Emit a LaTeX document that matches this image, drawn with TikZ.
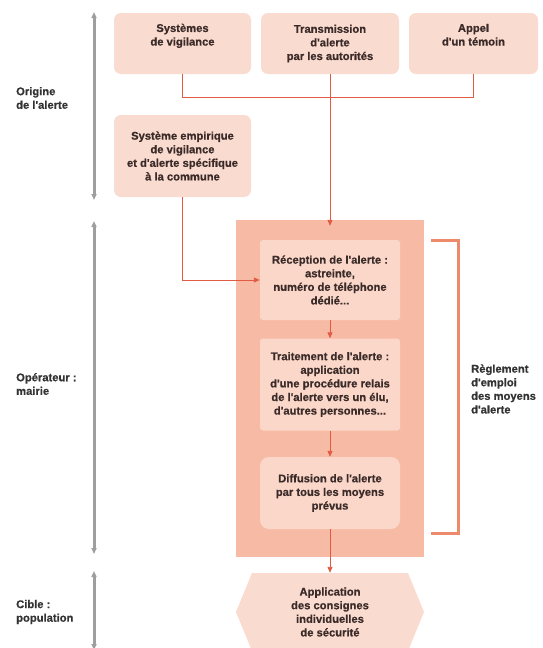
\documentclass[tikz,border=0pt]{standalone}
\usepackage{fontspec}
\newfontfamily\cond{Liberation Sans}[UprightFont={* Bold}, FakeBold=0.6]
\usetikzlibrary{arrows.meta}
\definecolor{boxfill}{HTML}{FADBCF}
\definecolor{bigfill}{HTML}{F7BBA5}
\definecolor{innerfill}{HTML}{FAD7C9}
\definecolor{txtc}{HTML}{3A2A28}
\definecolor{conncol}{HTML}{E05A44}
\definecolor{brcol}{HTML}{EE8A6C}
\definecolor{graycol}{HTML}{9E9E9E}
\definecolor{labc}{HTML}{333333}
\newcommand\txtfont{\cond\fontsize{11.2}{13.6}\selectfont}
\tikzset{
  box/.style={fill=boxfill, rounded corners=7pt, align=center, font=\txtfont, text=txtc, inner sep=0pt},
  inner/.style={fill=innerfill, rounded corners=3pt, align=center, font=\txtfont, text=txtc, inner sep=0pt, minimum width=140pt},
  conn/.style={draw=conncol, line width=0.9pt},
  arr/.style={conn, -{Triangle[length=6pt,width=5pt]}},
  bracketline/.style={draw=brcol, line width=3pt},
  grayarrow/.style={draw=graycol, line width=3pt, {Triangle[length=6pt,width=5pt]}-{Triangle[length=6pt,width=5pt]}},
  lab/.style={anchor=west, align=left, font=\txtfont, text=labc, inner sep=0pt}
}
\begin{document}
\begin{tikzpicture}[x=1pt,y=-1pt]
\useasboundingbox (0,0) rectangle (542,648);
\clip (0,0) rectangle (542,648);
% top boxes
\node[box, minimum width=137pt, minimum height=61pt] (b1) at (182.5,43.5) {Systèmes\\de vigilance\\\strut};
\node[box, minimum width=138pt, minimum height=61pt] (b2) at (330,43.5) {Transmission\\d'alerte\\par les autorités};
\node[box, minimum width=129pt, minimum height=61pt] (b3) at (473.5,43.5) {Appel\\d'un témoin\\\strut};
\node[box, minimum width=137pt, minimum height=82pt] (b4) at (182.5,156) {Système empirique\\de vigilance\\et d'alerte spécifique\\à la commune};
% big box
\node[fill=bigfill, minimum width=188pt, minimum height=337pt, inner sep=0pt] (big) at (330,388.5) {};
\node[inner, minimum height=80pt] (rec) at (330,280) {Réception de l'alerte :\\astreinte,\\numéro de téléphone\\dédié...};
\node[inner, minimum height=92pt] (tra) at (330,384.5) {Traitement de l'alerte :\\application\\d'une procédure relais\\de l'alerte vers un élu,\\d'autres personnes...};
\node[inner, rounded corners=9pt, minimum height=72pt] (dif) at (330,493) {Diffusion de l'alerte\\par tous les moyens\\prévus};
% hexagon
\fill[boxfill] (236,612) -- (252,573) -- (408,573) -- (424,612) -- (408,651) -- (252,651) -- cycle;
\node[align=center, font=\txtfont, text=txtc, inner sep=0pt, minimum height=78pt, minimum width=150pt] (hx) at (330,612) {Application\\des consignes\\individuelles\\de sécurité};
% connectors
\draw[conn] (b1.south) -- ++(0,23) -| (b3.south);
\draw[arr] (b2.south) -- ([yshift=-6pt]big.north);
\draw[arr] (b4.south) |- (rec.west);
\draw[arr] (rec.south) -- (tra.north);
\draw[arr] (tra.south) -- (dif.north);
\draw[arr] (dif.south) -- (hx.north);
% bracket
\coordinate (brt) at (431,240);
\coordinate (brb) at (431,533);
\draw[bracketline] (brt) -- ++(27,0) |- (brb);
\node[lab] (reg) at (471,389) {Règlement\\d'emploi\\des moyens\\d'alerte};
% gray arrows
\coordinate (g1a) at (94,12); \coordinate (g1b) at (94,200);
\coordinate (g2a) at (94,221); \coordinate (g2b) at (94,554);
\coordinate (g3a) at (94,571); \coordinate (g3b) at (94,650);
\draw[grayarrow] (g1a) -- (g1b);
\draw[grayarrow] (g2a) -- (g2b);
\draw[grayarrow] (g3a) -- (g3b);
\node[lab] (l1) at (16,98) {Origine\\de l'alerte};
\node[lab] (l2) at (16,384) {Opérateur :\\mairie};
\node[lab] (l3) at (16,612) {Cible :\\population};
\end{tikzpicture}
\end{document}
